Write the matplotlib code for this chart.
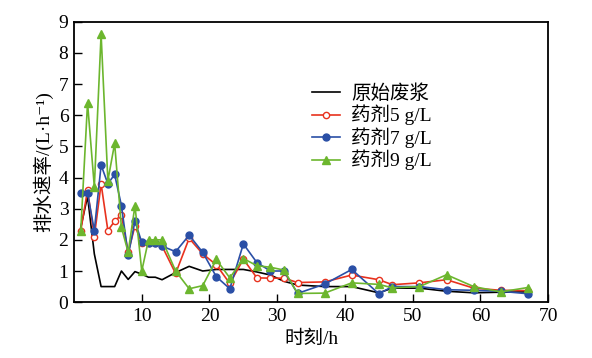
import matplotlib
matplotlib.use("Agg")
import matplotlib.pyplot as plt

plt.rcParams['font.family'] = ['Liberation Serif', 'Noto Sans CJK SC', 'DejaVu Sans']

t = [1, 2, 3, 4, 5, 6, 7, 8, 9, 10, 11, 12, 13, 15, 17, 19, 21, 23, 25, 27, 29, 31,
     33, 37, 41, 45, 47, 51, 55, 59, 63, 67]
raw = [2.4, 3.4, 1.55, 0.5, 0.5, 0.5, 1.0, 0.73, 0.98, 0.9, 0.8, 0.8, 0.72, 0.95, 1.15, 1.0,
       1.05, 1.05, 1.05, 0.97, 0.87, 0.67, 0.55, 0.5, 0.5, 0.3, 0.45, 0.45, 0.35, 0.3, 0.32, 0.33]
d5 = [2.3, 3.6, 2.1, 3.8, 2.3, 2.6, 2.8, 1.6, 2.45, 1.9, 1.9, 1.9, 1.8, 0.92, 2.05, 1.55,
      1.2, 0.6, 1.38, 0.78, 0.77, 0.77, 0.63, 0.65, 0.87, 0.72, 0.56, 0.62, 0.72, 0.45, 0.38, 0.37]
d7 = [3.5, 3.5, 2.3, 4.4, 3.8, 4.1, 3.1, 1.5, 2.6, 1.92, 1.9, 1.9, 1.8, 1.62, 2.15, 1.6,
      0.82, 0.43, 1.87, 1.27, 1.0, 1.0, 0.28, 0.58, 1.05, 0.27, 0.5, 0.5, 0.4, 0.38, 0.35, 0.27]
d9 = [2.3, 6.4, 3.7, 8.6, 3.9, 5.1, 2.4, 1.6, 3.1, 1.0, 2.0, 2.0, 2.0, 1.0, 0.43, 0.53,
      1.37, 0.78, 1.4, 1.17, 1.12, 1.03, 0.28, 0.29, 0.62, 0.57, 0.46, 0.5, 0.88, 0.5, 0.33, 0.47]

labels = ['原始废浆', '药剂5 g/L', '药剂7 g/L', '药剂9 g/L']
xticks = [10, 20, 30, 40, 50, 60, 70]
yticks = list(range(0, 10))

red = '#e8321e'
blue = '#2a4fa6'
green = '#6cb62e'

fig = plt.figure(figsize=(5.92, 3.58), dpi=100)
ax = fig.add_axes([0.125, 0.156, 0.801, 0.783])

ax.plot(t, raw, color='black', lw=1.2, label=labels[0])
ax.plot(t, d5, color=red, lw=1.2, marker='o', ms=4.5, mfc='white', mec=red, mew=1.0, label=labels[1])
ax.plot(t, d7, color=blue, lw=1.2, marker='o', ms=5, mfc=blue, mec=blue, label=labels[2])
ax.plot(t, d9, color=green, lw=1.2, marker='^', ms=5.5, mfc=green, mec=green, label=labels[3])

ax.set_xlim(0, 70)
ax.set_ylim(0, 9)
ax.set_xticks(xticks)
ax.set_yticks(yticks)
ax.tick_params(direction='in', length=6, width=1.0, labelsize=14, pad=4)
for s in ax.spines.values():
    s.set_linewidth(1.3)

ax.set_xlabel('时刻/h', fontsize=14, labelpad=4)
ax.set_ylabel('排水速率/(L·h⁻¹)', fontsize=14, labelpad=4)

leg = ax.legend(loc='upper left', bbox_to_anchor=(0.527, 0.765), bbox_transform=fig.transFigure,
                frameon=False, fontsize=14, handlelength=1.45, handletextpad=0.55,
                labelspacing=0.1, borderaxespad=0, borderpad=0)

fig.savefig('out.png', dpi=100)
